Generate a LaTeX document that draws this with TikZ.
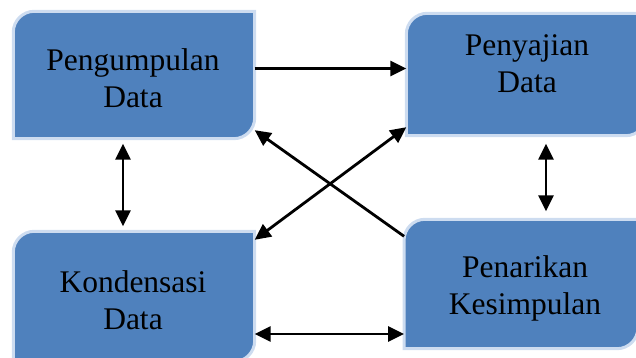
\documentclass[tikz,border=0pt]{standalone}
\usepackage{fontspec}
\setmainfont{Liberation Serif}
\usetikzlibrary{arrows.meta,backgrounds,calc}

\definecolor{boxblue}{RGB}{79,129,189}
\definecolor{boxedge}{RGB}{205,220,240}

\tikzset{
  databox/.style={minimum width=#1, minimum height=127pt, inner sep=0pt},
  boxpath/.style={fill=boxblue, draw=boxedge, line width=3pt},
  lbl/.style={align=center, inner sep=0pt, font=\fontsize{31.5}{37}\selectfont},
  arr/.style={line width=2.8pt, -{Triangle[length=16pt,width=15pt]}},
  dblarr/.style={line width=2.8pt, {Triangle[length=16pt,width=15pt]}-{Triangle[length=16pt,width=15pt]}}
}

\begin{document}
\begin{tikzpicture}[x=1pt,y=1pt]

      \useasboundingbox (0,0) rectangle (636,358);

      % the four boxes
      \node[databox=241pt] at (134,283) (kumpul) {};
      \node[databox=240pt, minimum height=122pt] at (526.5,283.5) (saji) {};
      \node[databox=241pt, minimum height=130pt] at (134,61.5) (kondensasi) {};
      \node[databox=233.5pt, minimum height=129pt] at (521,74) (tarik) {};

      \begin{scope}[on background layer]
        \foreach \n in {kumpul,saji,kondensasi,tarik}
          \draw[boxpath] (\n.south west) -- ([yshift=-21pt]\n.north west)
            arc[start angle=180, end angle=90, radius=21pt] -- (\n.north east)
            -- ([yshift=21pt]\n.south east)
            arc[start angle=0, end angle=-90, radius=21pt] -- cycle;
      \end{scope}

      % texts
      \node[lbl] at (133,280) (kumpultxt) {Pengumpulan\\Data};
      \node[lbl] at (527,294) (sajitxt) {Penyajian\\Data};
      \node[lbl] at (133,58) (kondensasitxt) {Kondensasi\\Data};
      \node[lbl] at (525,69.5) (tariktxt) {Penarikan\\Kesimpulan};

      % arrows
      \draw[arr] ([yshift=6.5pt]kumpul.east) -- ([yshift=6.5pt]kumpul.east -| saji.west);
      \draw[dblarr, shorten <=5pt, shorten >=5pt] ([xshift=-11pt]kumpul.south) -- ([xshift=-11pt]kumpul.south |- kondensasi.north);
      \draw[dblarr, shorten <=8pt, shorten >=8pt] ([xshift=19.5pt]saji.south) -- ([xshift=19.5pt]saji.south |- tarik.north);
      \draw[dblarr] ([yshift=-37.5pt]kondensasi.east) -- ([yshift=-37.5pt]kondensasi.east -| tarik.west);
      \draw[arr] ([yshift=-17pt]tarik.north west) -- ([yshift=8.5pt]kumpul.south east);
      \draw[dblarr] ([yshift=8.5pt]saji.south west) -- ([yshift=-8.5pt]kondensasi.north east);

\end{tikzpicture}
\end{document}
